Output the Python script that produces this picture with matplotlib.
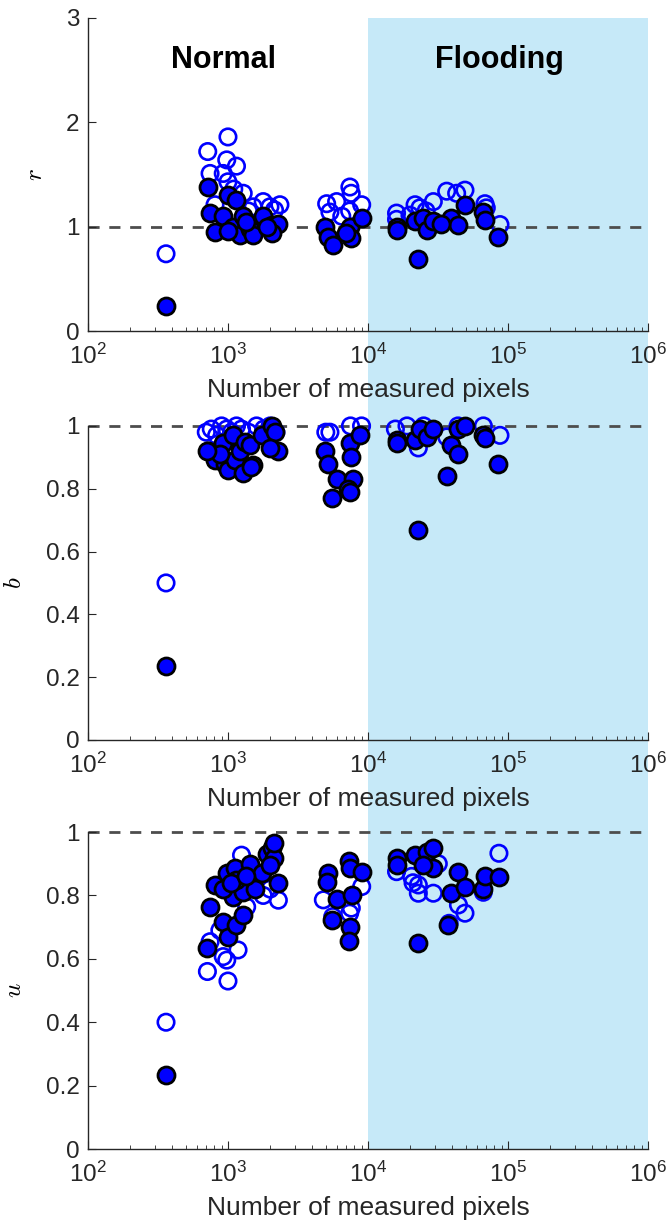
import matplotlib
matplotlib.use("Agg")
import matplotlib.pyplot as plt
from matplotlib.patches import Rectangle
from matplotlib.transforms import blended_transform_factory
import matplotlib.ticker as mticker

# ---- data (number of measured pixels vs. ratio values) ----
# r panel
r_open_x = [361, 1000, 717, 980, 1150, 745, 925, 1000, 1285, 808, 1785, 2350, 1515, 1995,
            1100, 1400, 2150,
            5070, 5970, 7430, 7590, 9020, 5350, 7400, 6500,
            16000, 16000, 21700, 23500, 29300, 36500, 43000, 49300, 68500, 87700, 19950,
            26000, 70000]
r_open = [0.74, 1.86, 1.72, 1.64, 1.58, 1.51, 1.51, 1.43, 1.32, 1.21, 1.24, 1.21, 1.19, 1.19,
          1.36, 1.15, 1.16,
          1.22, 1.24, 1.38, 1.32, 1.21, 1.14, 1.15, 1.10,
          1.13, 1.07, 1.21, 1.18, 1.24, 1.34, 1.32, 1.35, 1.22, 1.02, 1.11,
          1.15, 1.18]
r_fill_x = [361, 717, 1000, 1150, 745, 808, 925, 1090, 1285, 1215, 1430, 1000, 1785, 2050,
            2290, 2050, 1515, 1900, 1350,
            4900, 5220, 5660, 7400, 7590, 9020, 7000,
            16000, 16000, 21700, 24900, 26200, 29300, 22900, 39400, 44300, 49300, 66700,
            68500, 85400, 33000]
r_fill = [0.24, 1.38, 1.30, 1.26, 1.13, 0.95, 1.10, 1.00, 1.10, 0.92, 0.98, 0.96, 1.10, 1.02,
          1.03, 0.94, 0.92, 1.00, 1.04,
          1.00, 0.90, 0.82, 1.00, 0.89, 1.08, 0.94,
          1.00, 0.97, 1.05, 1.08, 0.97, 1.05, 0.69, 1.08, 1.02, 1.21, 1.14,
          1.06, 0.90, 1.03]

# b panel
b_open_x = [361, 700, 760, 830, 900, 980, 1060, 1150, 1250, 1400, 1600, 1800, 2000, 2200,
            5000, 5350, 7500, 9000, 15700, 19000, 22900, 25000, 36500, 44000, 66700, 87700]
b_open = [0.50, 0.98, 0.99, 0.97, 1.00, 0.99, 0.98, 1.00, 0.99, 0.98, 1.00, 0.99, 1.00, 0.98,
          0.98, 0.98, 1.00, 1.00, 0.99, 1.00, 0.93, 1.00, 0.965, 1.00, 1.00, 0.97]
b_fill_x = [361, 722, 808, 925, 950, 1000, 1090, 1125, 1215, 1285, 1320, 1430, 1515, 1740,
            2050, 2165, 2290, 1995, 875, 705, 1470,
            4900, 5220, 5970, 5500, 7400, 7590, 7800, 7200, 7400, 8800,
            16000, 16000, 21700, 23500, 26200, 29300, 22900, 39400, 44300, 36500, 44300,
            49300, 66700, 68500, 85400]
b_fill = [0.235, 0.92, 0.89, 0.945, 0.88, 0.86, 0.97, 0.89, 0.92, 0.85, 0.95, 0.94, 0.875, 0.97,
          1.00, 0.98, 0.92, 0.93, 0.91, 0.92, 0.87,
          0.92, 0.88, 0.83, 0.77, 0.945, 0.90, 0.83, 0.80, 0.79, 0.97,
          0.955, 0.945, 0.955, 0.99, 0.965, 0.99, 0.67, 0.94, 0.91, 0.84, 0.99,
          1.00, 0.97, 0.96, 0.88]

# u panel
u_open_x = [361, 713, 1000, 745, 980, 1180, 925, 2290, 1785, 1250, 1360, 875,
            1100, 1600, 2000,
            4800, 9020, 7400, 5600, 7600,
            16000, 20500, 22900, 22900, 29300, 21000, 31800, 44300, 49300, 38000, 66700, 86200]
u_open = [0.40, 0.56, 0.53, 0.654, 0.596, 0.628, 0.607, 0.785, 0.80, 0.927, 0.764, 0.69,
          0.83, 0.86, 0.82,
          0.786, 0.828, 0.744, 0.733, 0.76,
          0.875, 0.86, 0.833, 0.807, 0.807, 0.84, 0.90, 0.77, 0.744, 0.712, 0.81, 0.933]
u_fill_x = [361, 713, 750, 808, 925, 1000, 1150, 1285, 1090, 1285, 980, 1125, 1430, 1550,
            1740, 1900, 2050, 2130, 2290, 1995, 925, 1150, 2130, 1050, 1350,
            5220, 5070, 5970, 5540, 7300, 7400, 9020, 7700, 7400, 7290,
            16000, 16000, 21700, 26200, 29300, 29300, 24900, 22900, 39400, 44300, 49300,
            37400, 66700, 68500, 86200]
u_fill = [0.233, 0.633, 0.764, 0.833, 0.717, 0.67, 0.707, 0.738, 0.796, 0.81, 0.87, 0.885, 0.90,
          0.82, 0.87, 0.93, 0.95, 0.917, 0.838, 0.896, 0.82, 0.85, 0.965, 0.84, 0.86,
          0.87, 0.843, 0.788, 0.722, 0.91, 0.885, 0.875, 0.80, 0.70, 0.657,
          0.917, 0.896, 0.927, 0.938, 0.949, 0.886, 0.896, 0.65, 0.807, 0.875, 0.828,
          0.707, 0.82, 0.86, 0.857]

flood_start, flood_end = 1e4, 1e6

plt.rcParams.update({
    'font.family': ['Liberation Sans', 'DejaVu Sans'],
    'mathtext.fontset': 'cm',
    'font.size': 17,
    'axes.edgecolor': '#262626',
    'xtick.color': '#262626',
    'ytick.color': '#262626',
    'xtick.direction': 'in',
    'ytick.direction': 'in',
    'axes.linewidth': 1.0,
})

fig = plt.figure(figsize=(6.7, 12.31), dpi=100)

left, width = 0.1313, 0.8358
ax_r = fig.add_axes([left, 0.7311, width, 0.2543])
ax_b = fig.add_axes([left, 0.3989, width, 0.2551])
ax_u = fig.add_axes([left, 0.0666, width, 0.2575])

# flooding shading spanning all three panels
ax_r.set_xscale('log')
ax_r.set_xlim(1e2, 1e6)
trans = blended_transform_factory(ax_r.transData, fig.transFigure)
shade = Rectangle((flood_start, 0.0666), flood_end - flood_start, 0.9854 - 0.0666,
                  transform=trans, facecolor='#c6e9f8', edgecolor='none', zorder=-5)
fig.patches.append(shade)

panels = [
    (ax_r, r_open_x, r_open, r_fill_x, r_fill, r'$r$', (0, 3), [0, 1, 2, 3]),
    (ax_b, b_open_x, b_open, b_fill_x, b_fill, r'$b$', (0, 1), [0, 0.2, 0.4, 0.6, 0.8, 1]),
    (ax_u, u_open_x, u_open, u_fill_x, u_fill, r'$u$', (0, 1), [0, 0.2, 0.4, 0.6, 0.8, 1]),
]

for ax, ox, oy, fx, fy, lab, ylim, yt in panels:
    ax.set_facecolor('none')
    ax.set_xscale('log')
    ax.set_xlim(1e2, 1e6)
    ax.set_ylim(*ylim)
    ax.set_yticks(yt)
    ax.yaxis.set_major_formatter(mticker.FuncFormatter(lambda v, p: f"{v:g}"))
    ax.axhline(1, color='#4d4d4d', linestyle=(0, (4, 3.5)), linewidth=2, zorder=1,
               clip_on=False)
    ax.scatter(ox, oy, s=140, facecolors='none', edgecolors='#0000ff', linewidths=1.9,
               zorder=2, clip_on=False)
    ax.scatter(fx, fy, s=150, facecolors='#0000ff', edgecolors='black', linewidths=2.0,
               zorder=3, clip_on=False)
    for sp in ['top', 'right']:
        ax.spines[sp].set_visible(False)
    ax.tick_params(axis='both', which='major', length=6, labelsize=17.5)
    ax.tick_params(axis='x', which='minor', length=3)
    ax.tick_params(axis='x', pad=9)
    ax.tick_params(axis='y', pad=6)
    ax.set_xlabel('Number of measured pixels', fontsize=19, color='#262626', labelpad=7)
    ax.set_ylabel(lab, fontsize=18, rotation=90, labelpad=14)

ax_r.text(10**2.97, 2.6, 'Normal', ha='center', va='center', fontsize=22, fontweight='bold')
ax_r.text(10**4.94, 2.6, 'Flooding', ha='center', va='center', fontsize=22, fontweight='bold')

plt.savefig('out.png', dpi=100)
